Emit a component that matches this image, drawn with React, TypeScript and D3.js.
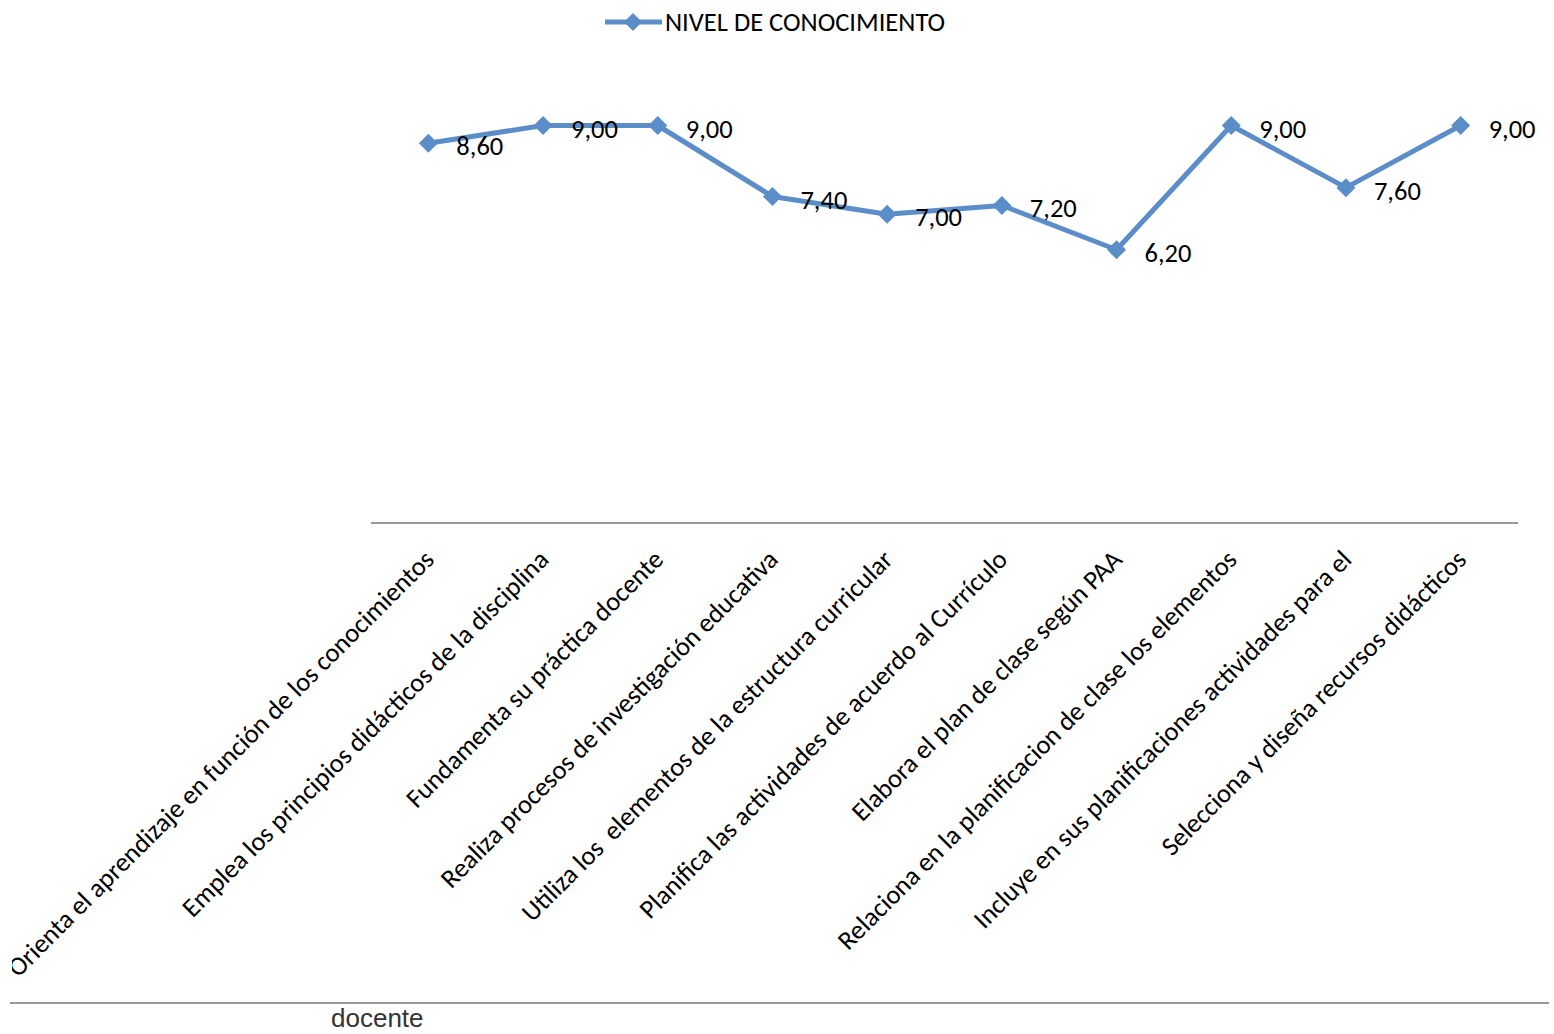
import React from "react";
import * as d3 from "d3";

const categories = [
  "Orienta el aprendizaje en función de los conocimientos",
  "Emplea los principios didácticos de la disciplina",
  "Fundamenta su práctica docente",
  "Realiza procesos de investigación educativa",
  "Utiliza los  elementos de la estructura curricular",
  "Planifica las actividades de acuerdo al Currículo",
  "Elabora el plan de clase según PAA",
  "Relaciona en la planificacion de clase los elementos",
  "Incluye en sus planificaciones actividades para el",
  "Selecciona y diseña recursos didácticos",
];
const values = [8.6, 9.0, 9.0, 7.4, 7.0, 7.2, 6.2, 9.0, 7.6, 9.0];
const seriesName = "NIVEL DE CONOCIMIENTO";
const footerText = "docente";

const W = 1554;
const H = 1034;
const BLUE = "#5B8DC8";
const FONT = "Carlito, 'Open Sans', sans-serif";
const FS = 26.5;

export default function App() {
  const x = d3.scaleBand<string>().domain(categories).range([371, 1518]);
  const y = d3.scaleLinear().domain([0, 9]).range([525, 125.5]);
  const cx = (c: string) => (x(c) as number) + x.bandwidth() / 2;
  const line = d3
    .line<number>()
    .x((_, i) => cx(categories[i]))
    .y((v) => y(v));
  const diamond = (px: number, py: number, r: number) =>
    `M${px},${py - r}L${px + r},${py}L${px},${py + r}L${px - r},${py}Z`;
  const fmt = (v: number) => v.toFixed(2).replace(".", ",");

  return (
    <div style={{ position: "absolute", left: 0, top: 0, width: W, height: H, background: "#fff" }}>
      <svg width={W} height={H} style={{ display: "block" }}>
        <defs>
          <clipPath id="lblclip">
            <rect x={12} y={0} width={W - 12} height={H} />
          </clipPath>
        </defs>
        <rect x={0} y={0} width={W} height={H} fill="#fff" />
        {/* legend */}
        <line x1={605} x2={662} y1={22} y2={22} stroke={BLUE} strokeWidth={5} />
        <path d={diamond(633, 22, 9)} fill={BLUE} />
        <text x={665} y={31} fontFamily={FONT} fontSize={FS} fill="#000">
          {seriesName}
        </text>
        {/* axis */}
        <line x1={371} x2={1518} y1={523} y2={523} stroke="#999" strokeWidth={2} />
        {/* line */}
        <path d={line(values) || ""} fill="none" stroke={BLUE} strokeWidth={5} strokeLinejoin="round" />
        {values.map((v, i) => (
          <path key={"m" + i} d={diamond(cx(categories[i]), y(v), 9.5)} fill={BLUE} />
        ))}
        {values.map((v, i) => (
          <text
            key={"l" + i}
            x={cx(categories[i]) + 28}
            y={y(v) + 12}
            fontFamily={FONT}
            fontSize={FS}
            fill="#000"
          >
            {fmt(v)}
          </text>
        ))}
        {/* category labels */}
        <g clipPath="url(#lblclip)">
          {categories.map((c, i) => (
            <text
              key={"c" + i}
              transform={`translate(${cx(c) - 6},${548}) rotate(-45)`}
              textAnchor="end"
              dy="0.7em"
              fontFamily={FONT}
              fontSize={FS}
              fill="#000"
              style={{ whiteSpace: "pre" }}
            >
              {c}
            </text>
          ))}
        </g>
        {/* bottom line and footer */}
        <line x1={10} x2={1549} y1={1003} y2={1003} stroke="#999" strokeWidth={2} />
        <text x={331} y={1027} fontFamily="'Liberation Sans', Arial, sans-serif" fontSize={26} fill="#333">
          {footerText}
        </text>
      </svg>
    </div>
  );
}
